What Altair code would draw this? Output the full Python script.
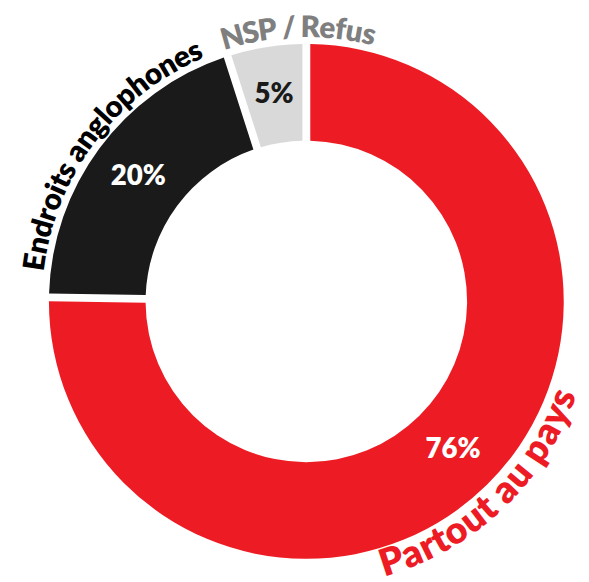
import math
import altair as alt
import pandas as pd

# ---- data ----
categories = ["Partout au pays", "Endroits anglophones", "NSP / Refus"]
values = [76, 20, 5]
pct_labels = ["76%", "20%", "5%"]
slice_colors = ["#ED1C24", "#1A1A1A", "#D9D9D9"]
pct_colors = ["#FFFFFF", "#FFFFFF", "#1A1A1A"]
label_colors = ["#ED1C24", "#000000", "#7F7F7F"]

df = pd.DataFrame({
    "cat": categories,
    "value": values,
    "pct": pct_labels,
    "ord": list(range(len(categories))),
    "scolor": slice_colors,
    "pcolor": pct_colors,
})

# ---- layout constants ----
W, H = 540, 540
OUTER, INNER = 261, 163
FONT = "Lato"
WEIGHT = 800

# approximate advance widths (em) used to set curved labels
ADV = {'P': .61, 'a': .53, 'r': .39, 't': .37, 'o': .58, 'u': .58, ' ': .22,
       'p': .58, 'y': .53, 's': .44, 'E': .58, 'n': .58, 'd': .58, 'i': .27,
       'g': .53, 'l': .27, 'h': .58, 'e': .54, 'N': .75, 'S': .53, '/': .40,
       'R': .61, 'f': .35}

# label: (center angle deg, baseline radius, font size, tops outward?)
label_layout = {
    "Partout au pays": (136.6, 290, 38, False),
    "Endroits anglophones": (306.9, 268, 30, True),
    "NSP / Refus": (358.3, 268, 30, True),
}


def curved(text, center, r_base, fs, outward):
    r_mid = r_base + 0.3 * fs if outward else r_base - 0.3 * fs
    widths = [ADV.get(c, .55) * fs for c in text]
    total_deg = sum(widths) / r_mid * 180 / math.pi
    rows = []
    cum = 0.0
    for c, w in zip(text, widths):
        off = (cum + w / 2) / r_mid * 180 / math.pi
        cum += w
        if c == " ":
            continue
        if outward:
            ang = center - total_deg / 2 + off
            rot = ang % 360
        else:
            ang = center + total_deg / 2 - off
            rot = (ang - 180) % 360
        rows.append({"ch": c, "deg": ang % 360, "rot": rot})
    return pd.DataFrame(rows)


arcs = alt.Chart(df).mark_arc(outerRadius=OUTER, innerRadius=INNER, padAngle=0.026).encode(
    theta=alt.Theta("value:Q", stack=True),
    order=alt.Order("ord:Q"),
    color=alt.Color("scolor:N", scale=None),
)

pct = alt.Chart(df).mark_text(radius=212, font=FONT, fontSize=28, fontWeight=WEIGHT).encode(
    theta=alt.Theta("value:Q", stack=True),
    order=alt.Order("ord:Q"),
    text="pct:N",
    color=alt.Color("pcolor:N", scale=None),
)

label_layers = []
for cat, col in zip(categories, label_colors):
    center, r_base, fs, outward = label_layout[cat]
    cdf = curved(cat, center, r_base, fs, outward)
    layer = alt.Chart(cdf).mark_text(
        radius=r_base, font=FONT, fontSize=fs, fontWeight=WEIGHT,
        color=col, align="center", baseline="alphabetic",
    ).encode(
        theta=alt.Theta("deg:Q", stack=None,
                        scale=alt.Scale(domain=[0, 360], range=[0, 2 * math.pi])),
        angle=alt.Angle("rot:Q", scale=None),
        text="ch:N",
    )
    label_layers.append(layer)

chart = alt.layer(alt.layer(arcs, pct), *label_layers).resolve_scale(
    theta="independent"
).properties(
    width=W, height=H, autosize="none",
    padding={"left": 32.5, "top": 23.5, "right": 8.5, "bottom": 10.5},
).configure_view(stroke=None)

chart.save("out.html", embed_options={"renderer": "svg", "actions": False})
